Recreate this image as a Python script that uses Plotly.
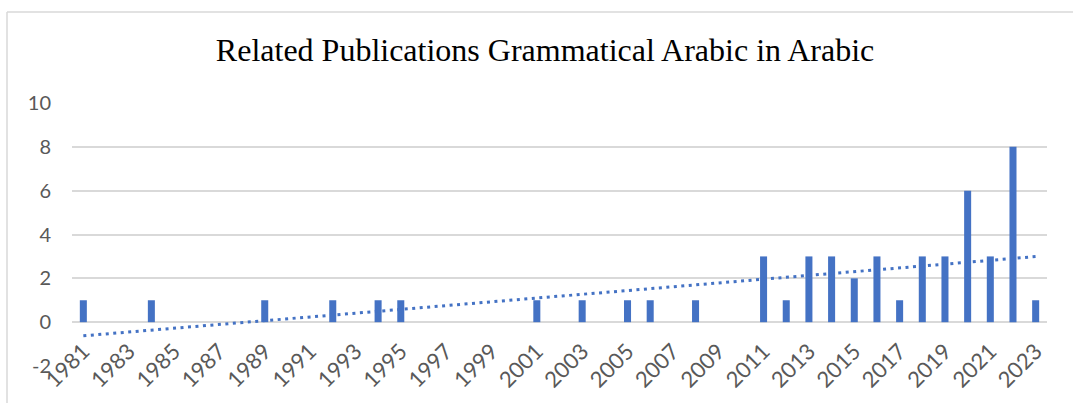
import numpy as np
import plotly.graph_objects as go

years = ["1981", "1982", "1983", "1984", "1985", "1986", "1987", "1988", "1989", "1990",
         "1991", "1992", "1993", "1994", "1995", "1996", "1997", "1998", "1999", "2000",
         "2001", "2002", "2003", "2004", "2005", "2006", "2007", "2008", "2009", "2010",
         "2011", "2012", "2013", "2014", "2015", "2016", "2017", "2018", "2019", "2020",
         "2021", "2022", "2023"]
counts = [1, 0, 0, 1, 0, 0, 0, 0, 1, 0,
          0, 1, 0, 1, 1, 0, 0, 0, 0, 0,
          1, 0, 1, 0, 1, 1, 0, 1, 0, 0,
          3, 1, 3, 3, 2, 3, 1, 3, 3, 6,
          3, 8, 1]
tick_labels = years[::2]
y_ticks = [-2, 0, 2, 4, 6, 8, 10]
y_tick_text = ["-2", "0", "2", "4", "6", "8", "10"]
title_text = "Related Publications Grammatical Arabic in Arabic"

# Linear trendline (least squares, as in the spreadsheet)
idx = np.arange(len(years))
slope, intercept = np.polyfit(idx, np.array(counts, dtype=float), 1)
trend = intercept + slope * idx

bar_color = "#4472C4"
fig = go.Figure()
fig.add_trace(go.Bar(x=years, y=counts, marker=dict(color=bar_color, line=dict(width=0)),
                     showlegend=False))
fig.add_trace(go.Scatter(x=[years[0], years[-1]], y=[trend[0], trend[-1]], mode="lines",
                         line=dict(color=bar_color, width=3, dash="3px,4.5px"), showlegend=False))

ymin, ymax = -2, 10
fig.update_layout(
    width=1073, height=403,
    margin=dict(l=72, r=26, t=103, b=37),
    paper_bgcolor="white", plot_bgcolor="white",
    bargap=0.69,
    title=dict(text=title_text, x=0.508, xanchor="center", y=0.876, yanchor="middle",
               font=dict(family="Liberation Serif", size=32, color="#000000")),
    font=dict(family="Lato", size=22, color="#595959"),
    xaxis=dict(type="category", tickmode="array", tickvals=tick_labels, ticktext=tick_labels,
               tickangle=-45, anchor="free", position=(0 - ymin) / (ymax - ymin),
               showgrid=False, showline=False, ticks="", automargin=False,
               ticklabelstandoff=11,
               tickfont=dict(size=22, color="#595959")),
    yaxis=dict(range=[ymin, ymax], tickvals=y_ticks, ticktext=y_tick_text,
               showgrid=True, gridcolor="#D9D9D9",
               gridwidth=1.5, zeroline=False, showline=False, ticks="", automargin=False,
               ticklabelstandoff=20, tickfont=dict(size=20, color="#595959")),
)
# chart border (left and top edges visible)
fig.add_shape(type="line", xref="paper", yref="paper",
              x0=(7 - 72) / 975, x1=(1080 - 72) / 975,
              y0=1 + (103 - 12) / 263, y1=1 + (103 - 12) / 263,
              line=dict(color="#D9D9D9", width=1.5))
fig.add_shape(type="line", xref="paper", yref="paper",
              x0=(7 - 72) / 975, x1=(7 - 72) / 975,
              y0=1 + (103 - 12) / 263, y1=-(410 - 366) / 263,
              line=dict(color="#D9D9D9", width=1.5))
fig.write_html("out.html", config={"displayModeBar": False},
               post_script="document.body.style.margin='0';")
